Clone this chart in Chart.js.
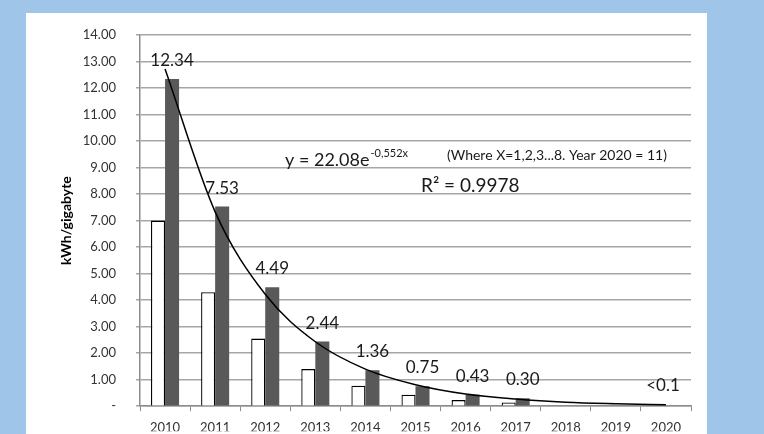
<!DOCTYPE html>
<html>
<head>
<meta charset="utf-8">
<script src="https://cdn.jsdelivr.net/npm/chart.js@4"></script>
<style>
  html, body { margin: 0; padding: 0; background: #9fc5e8; }
  #wrap { width: 764px; height: 434px; }
</style>
</head>
<body>
<div id="wrap"><canvas id="energy"></canvas></div>
<script>
const years = ["2010", "2011", "2012", "2013", "2014", "2015", "2016", "2017", "2018", "2019", "2020"];
const lowEstimate = [7.0, 4.3, 2.55, 1.4, 0.77, 0.43, 0.23, 0.14, null, null, null];
const highEstimate = [12.34, 7.53, 4.49, 2.44, 1.36, 0.75, 0.43, 0.30, null, null, null];
const trendValues = [12.72, 7.33, 4.22, 2.43, 1.40, 0.81, 0.46, 0.27, 0.15, 0.09, 0.05];
const barLabels = ["12.34", "7.53", "4.49", "2.44", "1.36", "0.75", "0.43", "0.30", "", "", "<0.1"];

Chart.defaults.font.family = "Lato";

// white card behind the chart
const panel = {
  id: "panel",
  beforeDraw(chart) {
    const ctx = chart.ctx;
    ctx.save();
    ctx.fillStyle = "#9fc5e8";
    ctx.fillRect(0, 0, chart.width, chart.height);
    ctx.fillStyle = "#ffffff";
    ctx.fillRect(26, 13, 681, chart.height - 13);
    ctx.restore();
  },
};

// value labels above the dark bars + equation text
const notes = {
  id: "notes",
  afterDatasetsDraw(chart) {
    const ctx = chart.ctx;
    const x = chart.scales.x;
    const y = chart.scales.y;
    const meta = chart.getDatasetMeta(2);
    ctx.save();
    ctx.fillStyle = "#1a1a1a";
    ctx.textAlign = "center";
    ctx.font = "17px Lato";
    barLabels.forEach((txt, i) => {
      if (!txt) return;
      const v = highEstimate[i];
      const el = meta.data[i];
      const px = v != null && el ? el.x : x.getPixelForValue(i) - 3;
      const py = y.getPixelForValue(v != null ? v : 0.1) - 13;
      ctx.fillText(txt, px, py);
    });

    const a = chart.chartArea;
    ctx.textAlign = "left";
    ctx.font = "18px Lato";
    ctx.fillText("y = 22.08e", a.left + 145, 166);
    let w = ctx.measureText("y = 22.08e").width;
    ctx.font = "11px Lato";
    ctx.fillText("-0,552x", a.left + 146 + w, 157);
    ctx.font = "14px Lato";
    ctx.fillText("(Where X=1,2,3...8. Year 2020 = 11)", a.left + 307, 160);
    ctx.font = "19px Lato";
    ctx.fillText("R\u00b2 = 0.9978", a.left + 281, 192);
    ctx.restore();
  },
};

const energyChart = new Chart(document.getElementById("energy"), {
  type: "bar",
  data: {
    labels: years,
    datasets: [
      {
        type: "line",
        label: "Trend",
        data: trendValues,
        borderColor: "#000",
        borderWidth: 1.5,
        pointRadius: 0,
        cubicInterpolationMode: "monotone",
        fill: false,
        order: 0,
      },
      {
        label: "Low",
        data: lowEstimate,
        backgroundColor: "#ffffff",
        borderColor: "#000",
        borderWidth: 1.3,
        categoryPercentage: 0.56,
        barPercentage: 1.0,
        order: 1,
      },
      {
        label: "High",
        data: highEstimate,
        backgroundColor: "#595959",
        borderWidth: 0,
        categoryPercentage: 0.56,
        barPercentage: 1.0,
        order: 2,
      },
    ],
  },
  options: {
    responsive: true,
    maintainAspectRatio: false,
    animation: false,
    layout: { padding: { left: 26, right: 73, top: 35, bottom: 0 } },
    plugins: {
      legend: { display: false },
      tooltip: { enabled: false },
    },
    scales: {
      x: {
        grid: { drawOnChartArea: false, tickLength: 5, color: "#8c8c8c" },
        border: { color: "#8c8c8c", width: 1.5 },
        ticks: { color: "#333", font: { size: 13 }, padding: 9, maxRotation: 0 },
        afterFit(scale) { scale.height = 25; },
      },
      y: {
        min: 0,
        max: 14,
        grid: { color: "#a6a6a6", lineWidth: 1.5, tickLength: 4 },
        border: { color: "#8c8c8c", width: 1.5 },
        ticks: {
          stepSize: 1,
          color: "#333",
          font: { size: 13 },
          padding: 20,
          callback: (v) => (v === 0 ? "-" : v.toFixed(2)),
        },
        title: {
          display: true,
          text: "kWh/gigabyte",
          color: "#000",
          font: { size: 14, weight: "bold" },
          padding: { top: 32, bottom: 0 },
        },
        afterFit(scale) { scale.width = 114; },
      },
    },
  },
  plugins: [panel, notes],
});
</script>
</body>
</html>
